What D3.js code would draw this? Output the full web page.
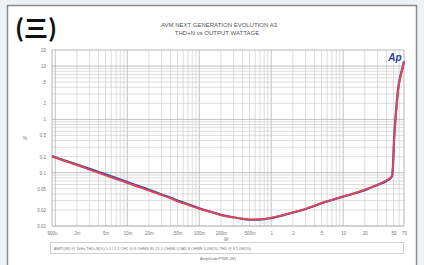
<!DOCTYPE html>
<html>
<head>
<meta charset="utf-8">
<script src="https://cdn.jsdelivr.net/npm/d3@7"></script>
<style>
	body { margin: 0; background: #eef2f4; }
	svg { display: block; }
	text { font-family: "Liberation Sans", Arial, sans-serif; }
</style>
</head>
<body>
<div id="chart"><svg></svg></div>
<script>
// output power (W)
var power = [0.0009, 0.0012, 0.0015, 0.002, 0.003, 0.004, 0.005, 0.007, 0.01, 0.015,
	0.02, 0.03, 0.04, 0.05, 0.07, 0.1, 0.15, 0.2, 0.3, 0.4,
	0.5, 0.7, 1, 1.5, 2, 3, 4, 5, 7, 10,
	15, 20, 30, 40, 45, 48, 49.5, 51, 53, 58,
	62, 66, 70];
// THD+N (%) left / right channel
var thdRed = [0.20, 0.175, 0.158, 0.138, 0.114, 0.099, 0.089, 0.076, 0.064, 0.053,
	0.046, 0.038, 0.033, 0.029, 0.025, 0.021, 0.018, 0.016, 0.0145, 0.0137,
	0.0133, 0.0134, 0.0143, 0.0162, 0.018, 0.021, 0.024, 0.027, 0.031, 0.036,
	0.042, 0.048, 0.06, 0.072, 0.08, 0.09, 0.15, 0.4, 0.85, 3.5,
	6, 8.5, 12];
var thdBlue = [0.205, 0.178, 0.162, 0.142, 0.118, 0.103, 0.093, 0.079, 0.067, 0.055,
	0.048, 0.039, 0.034, 0.030, 0.0255, 0.0215, 0.0183, 0.0162, 0.0146, 0.0136,
	0.0131, 0.0132, 0.0141, 0.016, 0.0178, 0.0208, 0.0238, 0.0268, 0.0308, 0.0355,
	0.0415, 0.047, 0.059, 0.07, 0.078, 0.088, 0.16, 0.45, 0.95, 3.8,
	6.3, 8.8, 12.3];

var xTicks = [0.0009, 0.002, 0.005, 0.01, 0.02, 0.05, 0.1, 0.2, 0.5, 1, 2, 5, 10, 20, 50, 70];
var xTickLabels = ["900u", "2m", "5m", "10m", "20m", "50m", "100m", "200m", "500m", "1", "2", "5", "10", "20", "50", "70"];
var yTicks = [20, 10, 5, 2, 1, 0.5, 0.2, 0.1, 0.05, 0.02, 0.01];
var yTickLabels = ["20", "10", "5", "2", "1", "0.5", "0.2", "0.1", "0.05", "0.02", "0.01"];

var W = 424, H = 265;
var margin = { top: 50, right: 20, bottom: 39, left: 52 };
var width = W - margin.left - margin.right;
var height = H - margin.top - margin.bottom;

var svg = d3.select("#chart svg").attr("width", W).attr("height", H);

// panel
svg.append("rect").attr("x", 7.5).attr("y", 5.5).attr("width", 409).attr("height", 270)
	.attr("fill", "#fff").attr("stroke", "#8a8a8a").attr("stroke-width", 1.5);

svg.append("text").attr("x", 15).attr("y", 37)
	.attr("font-size", 24).attr("font-weight", "bold").attr("fill", "#111")
	.style("font-family", "'Noto Sans CJK SC', sans-serif")
	.text("(三)");

svg.append("text").attr("x", 219).attr("y", 27).attr("text-anchor", "middle")
	.attr("font-size", 6).attr("fill", "#555").text("AVM NEXT GENERATION EVOLUTION A3");
svg.append("text").attr("x", 217).attr("y", 35).attr("text-anchor", "middle")
	.attr("font-size", 6).attr("fill", "#555").text("THD+N vs OUTPUT WATTAGE");

var xScale = d3.scaleLog().domain([0.0009, 70]).range([0, width]);
var yScale = d3.scaleLog().domain([0.01, 20]).range([height, 0]);

var g = svg.append("g").attr("transform", "translate(" + margin.left + "," + margin.top + ")");

// minor / major grid
var xGrid = [], yGrid = [];
for (var e = -4; e <= 1; e++) {
	for (var k = 1; k <= 9; k++) {
		var v = k * Math.pow(10, e);
		if (v >= 0.0009 && v <= 70) xGrid.push({ v: v, major: k == 1 });
		if (v >= 0.01 && v <= 20) yGrid.push({ v: v, major: k == 1 });
	}
}
g.selectAll(".vgrid").data(xGrid).enter().append("line")
	.attr("x1", function (d) { return xScale(d.v); })
	.attr("x2", function (d) { return xScale(d.v); })
	.attr("y1", 0).attr("y2", height)
	.attr("stroke", function (d) { return d.major ? "#a8a8a8" : "#cfcfcf"; })
	.attr("stroke-width", 0.7);
g.selectAll(".hgrid").data(yGrid).enter().append("line")
	.attr("x1", 0).attr("x2", width)
	.attr("y1", function (d) { return yScale(d.v); })
	.attr("y2", function (d) { return yScale(d.v); })
	.attr("stroke", function (d) { return d.major ? "#a8a8a8" : "#cfcfcf"; })
	.attr("stroke-width", 0.7);
g.append("rect").attr("width", width).attr("height", height)
	.attr("fill", "none").attr("stroke", "#b8b8b8").attr("stroke-width", 0.7);

// axes labels
var xAxis = d3.axisBottom(xScale).tickValues(xTicks).tickSize(0)
	.tickFormat(function (d, i) { return xTickLabels[i]; });
g.append("g").attr("class", "axis axis--x")
	.attr("transform", "translate(0," + (height + 3) + ")")
	.call(xAxis)
	.call(function (a) { a.select(".domain").remove(); })
	.selectAll("text").attr("font-size", 4.5).attr("fill", "#777");

var yAxis = d3.axisLeft(yScale).tickValues(yTicks).tickSize(0)
	.tickFormat(function (d, i) { return yTickLabels[i]; });
g.append("g").attr("class", "axis axis--y")
	.attr("transform", "translate(-3,0)")
	.call(yAxis)
	.call(function (a) { a.select(".domain").remove(); })
	.selectAll("text").attr("font-size", 4.5).attr("fill", "#777");

// curves
var line = d3.line()
	.x(function (d) { return xScale(d[0]); })
	.y(function (d) { return yScale(d[1]); })
	.curve(d3.curveMonotoneX);

g.append("path").datum(d3.zip(power, thdBlue))
	.attr("fill", "none").attr("stroke", "#3b4f9e").attr("stroke-width", 2.2)
	.attr("d", line);
g.append("path").datum(d3.zip(power, thdRed))
	.attr("fill", "none").attr("stroke", "#e2455a").attr("stroke-width", 1.9)
	.attr("d", line);

// Ap logo
svg.append("text").attr("x", 395).attr("y", 61).attr("text-anchor", "middle")
	.attr("font-size", 10).attr("font-weight", "bold").attr("font-style", "italic")
	.attr("fill", "#2c3f9a").text("Ap");

// unit labels
svg.append("text").attr("x", 25).attr("y", 140).attr("text-anchor", "middle")
	.attr("font-size", 5).attr("fill", "#777").text("%");
svg.append("text").attr("x", 226).attr("y", 241).attr("text-anchor", "middle")
	.attr("font-size", 4.5).attr("fill", "#777").text("W");

// legend box
svg.append("rect").attr("x", 50.5).attr("y", 242.5).attr("width", 353).attr("height", 11)
	.attr("fill", "#fff").attr("stroke", "#c4c4c4").attr("stroke-width", 0.8);
svg.append("text").attr("x", 54).attr("y", 249.8)
	.attr("font-size", 3.8).attr("fill", "#777")
	.text("AMPL(W) @ 1kHz   THD+N(%) 1:1 / 2:1   CH1 @ 8 OHMS   RL 21.1 OHMS   LOAD 8 OHMS 1.0W(%)   THD @ 8 1.0W(%)");
svg.append("text").attr("x", 218).attr("y", 260).attr("text-anchor", "middle")
	.attr("font-size", 4).attr("fill", "#777").text("Amplitude/PWR (W)");
</script>
</body>
</html>
